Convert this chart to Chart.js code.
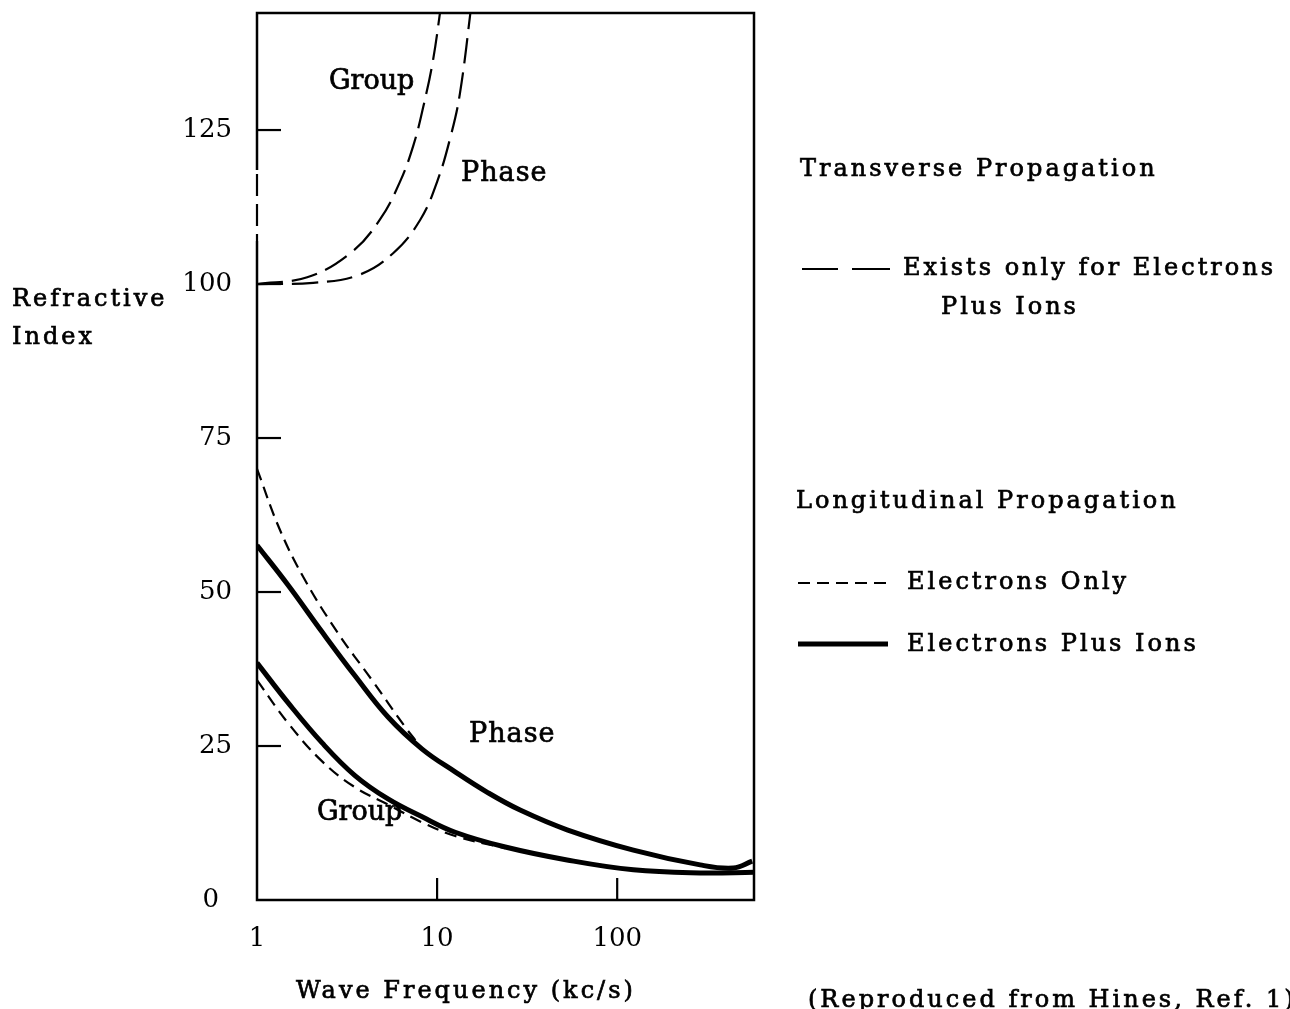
<!DOCTYPE html>
<html>
<head>
<meta charset="utf-8">
<script src="https://cdn.jsdelivr.net/npm/chart.js@4.4.1/dist/chart.umd.min.js"></script>
<style>
  html, body { margin: 0; padding: 0; background: #fff; }
  #quadro { width: 1290px; height: 1009px; }
</style>
</head>
<body>
<div id="quadro"><canvas id="grafico" width="1290" height="1009"></canvas></div>
<script>
// eixos
const xTicks = [1, 10, 100];
const yTicks = [0, 25, 50, 75, 100, 125];
const xMin = 1, xMax = 575;
const yMin = 0, yMax = 144;

// trecho tracejado do eixo vertical (indice)
const eixoTracoDe = 107;
const eixoTracoAte = 118.5;

// propagacao transversal (so existe com eletrons + ions)
const transGrupoX = [1, 1.9, 3.3, 4.8, 6.2, 7.4, 8.4, 9.5, 10.6];
const transGrupoY = [100, 101.1, 105, 110.4, 116.5, 122.6, 128.9, 136.4, 146];
const transFaseX = [1, 2.05, 3.7, 5.7, 8.05, 10, 11.8, 13.4, 15.6];
const transFaseY = [100, 100.2, 101.5, 105, 110.4, 116.6, 123.6, 131, 146];

// propagacao longitudinal, eletrons + ions
const longFaseIonX = [1, 1.49, 2.3, 3.5, 5.34, 8.26, 12.6, 19.2, 28.9, 52.7, 123, 289, 441, 562];
const longFaseIonY = [57.6, 51.1, 43.5, 36.4, 29.7, 24.5, 20.8, 17.4, 14.6, 11.4, 8.1, 5.7, 5.2, 6.3];
const longGrupoIonX = [1, 1.49, 2.3, 3.5, 5.34, 8.26, 12.6, 23.9, 52.7, 123, 289, 575];
const longGrupoIonY = [38.5, 32.0, 25.5, 20.2, 16.4, 13.5, 11.0, 8.6, 6.5, 4.9, 4.4, 4.5];

// propagacao longitudinal, so eletrons
const longFaseEleX = [1, 1.34, 1.85, 2.82, 4.35, 6.64, 7.55, 8.26, 12.6, 19.2];
const longFaseEleY = [70, 60.1, 51.9, 43.3, 35.7, 28.1, 26.0, 24.6, 20.8, 17.3];
const longGrupoEleX = [1, 1.49, 2.3, 3.5, 5.34, 8.26, 12.6, 23.9];
const longGrupoEleY = [35.7, 28.7, 22.5, 18.3, 15.5, 12.6, 10.4, 8.4];

const serif = '"DejaVu Serif", "Liberation Serif", serif';
const tracoLongo = [26, 9];
const tracoCurto = [12, 7];

function pares(xs, ys) {
  return xs.map((x, i) => ({ x: x, y: ys[i] }));
}

function serie(xs, ys, largura, traco) {
  return {
    data: pares(xs, ys),
    borderColor: '#000',
    borderWidth: largura,
    borderDash: traco,
    pointRadius: 0,
    fill: false,
    tension: 0.4
  };
}

// texto com leve contorno, para imitar a impressao mais carregada
function texto(ctx, str, x, y, tamanho, espaco) {
  ctx.font = tamanho + 'px ' + serif;
  ctx.letterSpacing = espaco + 'px';
  ctx.setLineDash([]);
  ctx.lineWidth = 0.7;
  ctx.fillText(str, x, y);
  ctx.strokeText(str, x, y);
}

function linha(ctx, x1, y1, x2, y2, largura, traco) {
  ctx.lineWidth = largura;
  ctx.setLineDash(traco);
  ctx.beginPath();
  ctx.moveTo(x1, y1);
  ctx.lineTo(x2, y2);
  ctx.stroke();
}

const moldura = {
  id: 'moldura',
  afterDatasetsDraw(chart) {
    const { ctx, chartArea: a, scales: { x, y } } = chart;
    ctx.save();
    ctx.strokeStyle = '#000';
    ctx.lineWidth = 2.5;
    ctx.beginPath();
    ctx.moveTo(a.left, y.getPixelForValue(eixoTracoAte));
    ctx.lineTo(a.left, a.top);
    ctx.lineTo(a.right, a.top);
    ctx.lineTo(a.right, a.bottom);
    ctx.lineTo(a.left, a.bottom);
    ctx.lineTo(a.left, y.getPixelForValue(eixoTracoDe));
    ctx.stroke();
    linha(ctx, a.left, y.getPixelForValue(eixoTracoAte) + 4, a.left, y.getPixelForValue(eixoTracoDe), 2.2, [22, 8]);

    // marcas para dentro
    y.ticks.forEach((t) => {
      if (t.value === yMin) return;
      const py = y.getPixelForValue(t.value);
      linha(ctx, a.left, py, a.left + 24, py, 2.2, []);
    });
    x.ticks.forEach((t) => {
      if (t.value === xMin) return;
      const px = x.getPixelForValue(t.value);
      linha(ctx, px, a.bottom, px, a.bottom - 22, 2.2, []);
    });
    ctx.restore();
  }
};

const textos = {
  id: 'textos',
  afterDraw(chart) {
    const ctx = chart.ctx;
    ctx.save();
    ctx.fillStyle = '#000';
    ctx.strokeStyle = '#000';
    ctx.textAlign = 'left';
    ctx.textBaseline = 'middle';

    // rotulos das curvas
    texto(ctx, 'Group', 329, 82, 27, 0);
    texto(ctx, 'Phase', 461, 174, 27, 1);
    texto(ctx, 'Phase', 469, 735, 27, 1);
    texto(ctx, 'Group', 317, 813, 27, 0);

    // eixos
    texto(ctx, 'Refractive', 12, 300, 24, 3);
    texto(ctx, 'Index', 12, 338, 24, 3);
    texto(ctx, 'Wave Frequency (kc/s)', 296, 992, 24, 3);

    // legenda
    texto(ctx, 'Transverse Propagation', 800, 170, 24, 3);
    linha(ctx, 802, 269, 838, 269, 2, []);
    linha(ctx, 852, 269, 890, 269, 2, []);
    texto(ctx, 'Exists only for Electrons', 903, 269, 24, 3);
    texto(ctx, 'Plus Ions', 941, 308, 24, 3);

    texto(ctx, 'Longitudinal Propagation', 796, 502, 24, 3);
    linha(ctx, 798, 583, 888, 583, 2.2, tracoCurto);
    texto(ctx, 'Electrons Only', 907, 583, 24, 3);
    linha(ctx, 798, 644, 888, 644, 5, []);
    texto(ctx, 'Electrons Plus Ions', 907, 645, 24, 3);

    texto(ctx, '(Reproduced from Hines, Ref. 1)', 808, 1001, 24, 3);
    ctx.restore();
  }
};

new Chart(document.getElementById('grafico'), {
  type: 'line',
  data: {
    datasets: [
      serie(transGrupoX, transGrupoY, 2.2, tracoLongo),
      serie(transFaseX, transFaseY, 2.2, tracoLongo),
      serie(longFaseEleX, longFaseEleY, 2.2, tracoCurto),
      serie(longGrupoEleX, longGrupoEleY, 2.2, tracoCurto),
      serie(longFaseIonX, longFaseIonY, 5, []),
      serie(longGrupoIonX, longGrupoIonY, 5, [])
    ]
  },
  options: {
    responsive: false,
    animation: false,
    layout: { padding: { top: 13, right: 536, left: 0, bottom: 0 } },
    plugins: {
      legend: { display: false },
      tooltip: { enabled: false }
    },
    scales: {
      x: {
        type: 'logarithmic',
        min: xMin,
        max: xMax,
        grid: { display: false, drawTicks: false },
        border: { display: false },
        afterBuildTicks: (s) => { s.ticks = xTicks.map((v) => ({ value: v })); },
        afterFit: (s) => {
          s.height = 109;
          s.paddingLeft = 0;
          s.paddingRight = 0;
        },
        ticks: {
          color: '#000',
          font: { family: serif, size: 26 },
          padding: 24,
          maxRotation: 0,
          autoSkip: false,
          callback: (v) => String(v)
        }
      },
      y: {
        type: 'linear',
        min: yMin,
        max: yMax,
        grid: { display: false, drawTicks: false },
        border: { display: false },
        afterBuildTicks: (s) => { s.ticks = yTicks.map((v) => ({ value: v })); },
        afterFit: (s) => {
          s.width = 257;
          s.paddingTop = 0;
          s.paddingBottom = 0;
        },
        ticks: {
          color: '#000',
          font: { family: serif, size: 26 },
          padding: 25,
          // o zero fica um pouco mais a esquerda no original
          callback: (v) => (v === 0 ? '0\u2002' : String(v))
        }
      }
    }
  },
  plugins: [moldura, textos]
});
</script>
</body>
</html>
